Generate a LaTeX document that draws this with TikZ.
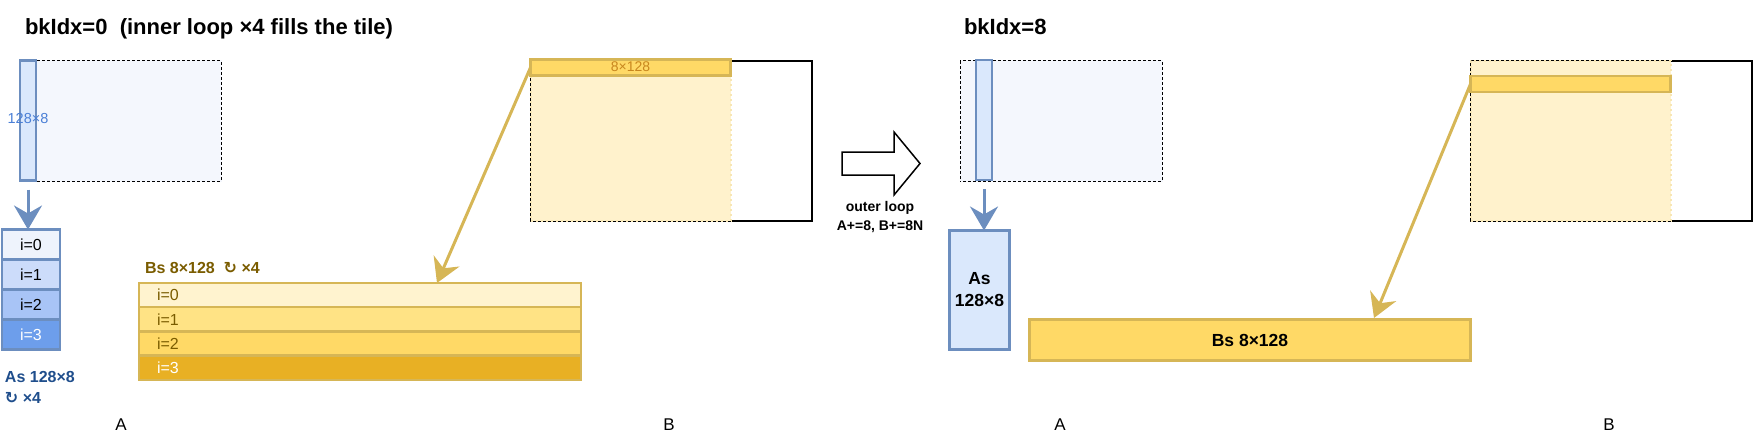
\documentclass[tikz,border=0pt]{standalone}
\usepackage{fontspec}
\setmainfont{Liberation Sans}
\newfontfamily\symfont{DejaVu Sans}
\usetikzlibrary{arrows.meta}
\definecolor{blueline}{HTML}{6C8EBF}
\definecolor{bluefill}{HTML}{DAE8FC}
\definecolor{bluetile}{HTML}{F4F7FD}
\definecolor{arow0}{HTML}{EEF3FC}
\definecolor{arow1}{HTML}{CCDCFA}
\definecolor{arow2}{HTML}{A8C4F6}
\definecolor{arow3}{HTML}{6D9EEB}
\definecolor{bluelabel}{HTML}{4A7FD6}
\definecolor{astext}{HTML}{1F4E8C}
\definecolor{yelline}{HTML}{D6B656}
\definecolor{yelfill}{HTML}{FFF2CC}
\definecolor{yelstrip}{HTML}{FFD966}
\definecolor{brow0}{HTML}{FFF3CF}
\definecolor{brow1}{HTML}{FFE385}
\definecolor{brow2}{HTML}{FFD966}
\definecolor{brow3}{HTML}{E8B024}
\definecolor{bstext}{HTML}{7A5C00}
\definecolor{orangelabel}{HTML}{C8861E}
\newcommand{\loopsym}{{\symfont ↻}}
\begin{document}
\begin{tikzpicture}[x=1pt, y=-1pt,
  every node/.style={inner sep=0pt, outer sep=0pt},
  title/.style={anchor=base west, font=\bfseries\fontsize{22}{26}\selectfont},
  matrixbox/.style={draw=black, line width=2pt, fill=white, minimum width=281, minimum height=160},
  atile/.style={draw=bluetile, dash pattern=on 2pt off 3pt, line width=2pt, fill=bluetile,
    minimum width=201, minimum height=120},
  btile/.style={draw=yelfill!80!yelline, dash pattern=on 2pt off 3pt, line width=2pt, fill=yelfill,
    minimum width=200, minimum height=160},
  astrip/.style={draw=blueline, line width=2.8pt, fill=bluefill, minimum width=16, minimum height=120},
  bstrip/.style={draw=yelline, line width=2.8pt, fill=yelstrip, minimum width=200, minimum height=16},
  arow/.style={draw=blueline, line width=2.5pt, minimum width=58, minimum height=30,
    font=\fontsize{16}{19}\selectfont},
  brow/.style={draw=yelline, line width=2.5pt, minimum height=24.25, text width=406, inner xsep=18pt,
    align=left, font=\fontsize{16}{19}\selectfont},
  bigbox/.style={line width=3pt, font=\bfseries\fontsize{17.5}{22}\selectfont, align=center},
  bluearrow/.style={draw=blueline, line width=3pt, -{Stealth[length=24pt, width=28pt, inset=8pt]}},
  yelarrow/.style={draw=yelline, line width=3pt, -{Stealth[length=24pt, width=28pt, inset=8pt]}},
  axislabel/.style={anchor=base, font=\fontsize{17}{20}\selectfont}]
  \useasboundingbox (0,0) rectangle (1754,436);

  % ---- bkIdx = 0 ----
  \node[title] (titleL) at (25,34.5) {bkIdx=0\ \ (inner loop ×4 fills the tile)};

  % A tile with its 128x8 column
  \node[draw=black, line width=2pt, minimum width=201, minimum height=120] (matAL) at (120.5,121) {};
  \node[atile] (tileAL) at (120.5,121) {};
  \node[astrip] (stripAL) at (28,120.5) {};
  \node[text=bluelabel, font=\fontsize{14.5}{17}\selectfont] (lblAL) at (28,119) {128×8};

  % As, filled four times
  \foreach \i/\fillc/\txtc in {0/arow0/black, 1/arow1/black, 2/arow2/black, 3/arow3/white}
    \node[arow, fill=\fillc, text=\txtc] (a\i) at (31,{244.5+30*\i}) {i=\i};
  \draw[bluearrow, shorten <=9pt] (stripAL.south) -- (stripAL.south |- a0.north);
  \node[anchor=north west, align=left, text=astext, font=\bfseries\fontsize{16}{21}\selectfont]
    (asL) at (5,371.5) {As 128×8\\\loopsym{} ×4};

  % B tile with its 8x128 row
  \node[matrixbox] (matBL) at (671.5,141) {};
  \node[btile] (tileBL) at (631,141) {};
  \node[bstrip] (stripBL) at (630.5,67.5) {};
  \node[text=orangelabel, font=\fontsize{14}{16}\selectfont] (lblBL) at (630.5,67) {8×128};

  % Bs, filled four times
  \node[anchor=base west, text=bstext, font=\bfseries\fontsize{16}{19}\selectfont]
    (bsL) at (145,273) {Bs 8×128\ \ \loopsym{} ×4};
  \foreach \i/\fillc/\txtc in {0/brow0/bstext, 1/brow1/bstext, 2/brow2/bstext, 3/brow3/white}
    \node[brow, fill=\fillc, text=\txtc] (bs\i) at (360,{295+24.25*\i}) {i=\i};
  \coordinate (bsinL) at (437,283);
  \draw[yelarrow] (stripBL.west) -- (bsinL);

  \node[axislabel] (labAL) at (121,430) {A};
  \node[axislabel] (labBL) at (669,430) {B};

  % ---- outer loop step ----
  \draw[line width=1.5pt, fill=white] (842,152) -- (894,152) -- (894,132) -- (920,163.5)
    -- (894,195) -- (894,175) -- (842,175) -- cycle;
  \node[anchor=north, align=center, font=\bfseries\fontsize{14}{19}\selectfont]
    (outer) at (880,201.5) {outer loop\\A+=8, B+=8N};

  % ---- bkIdx = 8 ----
  \node[title] (titleR) at (964,34.5) {bkIdx=8};

  \node[draw=black, line width=2pt, minimum width=201, minimum height=120] (matAR) at (1061.5,121) {};
  \node[atile] (tileAR) at (1061.5,121) {};
  \node[astrip] (stripAR) at (984,120) {};
  \node[bigbox, draw=blueline, fill=bluefill, minimum width=60, minimum height=119] (asR) at (979.5,290) {As\\128×8};
  \draw[bluearrow, shorten <=9pt] (stripAR.south) -- (stripAR.south |- asR.north);

  \node[matrixbox] (matBR) at (1611.5,141) {};
  \node[btile] (tileBR) at (1571,141) {};
  \node[bstrip] (stripBR) at (1570.5,84) {};
  \node[bigbox, draw=yelline, fill=yelstrip, minimum width=441, minimum height=41] (bsR) at (1250,340) {Bs 8×128};
  \coordinate (bsinR) at (1374,318);
  \draw[yelarrow] (stripBR.west) -- (bsinR);

  \node[axislabel] (labAR) at (1060,430) {A};
  \node[axislabel] (labBR) at (1609,430) {B};
\end{tikzpicture}
\end{document}
